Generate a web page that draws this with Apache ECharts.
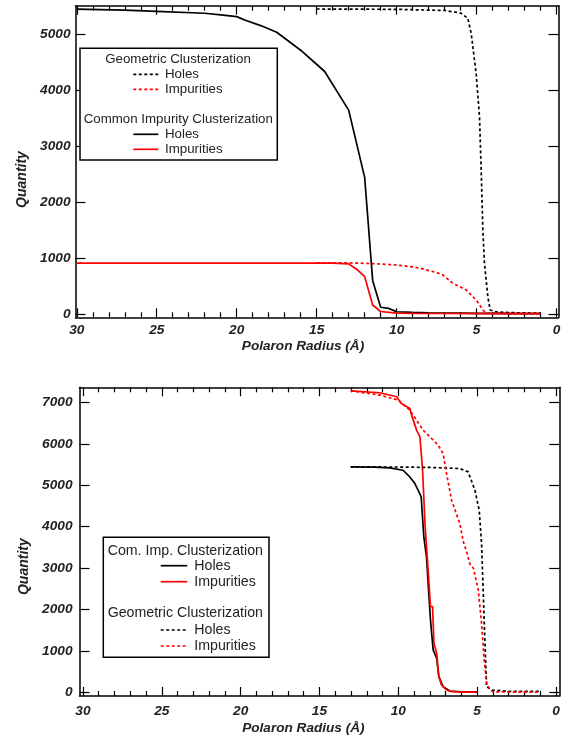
<!DOCTYPE html>
<html>
<head>
<meta charset="utf-8">
<script src="https://cdn.jsdelivr.net/npm/echarts@6/dist/echarts.min.js"></script>
<style>
  html, body { margin: 0; padding: 0; background: #fff; }
  #chart { width: 572px; height: 741px; }
</style>
</head>
<body>
<div id="chart"></div>
<script>
// top panel: radius (Å) and quantity for each curve
const topComHolesR = [30, 27, 25, 22, 21, 20, 19.5, 18.5, 17.5, 16, 14.5, 13, 12, 11.5, 11, 10.5, 10, 9, 8, 7, 6, 5, 4, 3, 2, 1];
const topComHolesQ = [5445, 5425, 5405, 5370, 5340, 5310, 5250, 5150, 5030, 4710, 4330, 3640, 2440, 600, 120, 100, 40, 30, 22, 18, 15, 12, 10, 8, 6, 5];
const topComImpR = [30, 15, 14, 13, 12.5, 12, 11.5, 11, 10, 9, 7, 5, 3, 1];
const topComImpQ = [910, 910, 908, 895, 800, 667, 161, 45, 15, 10, 9, 8, 8, 8];
const topGeoHolesR = [15, 10, 7, 6, 5.55, 5.34, 5.03, 4.82, 4.72, 4.61, 4.51, 4.3, 4.15, 3.8, 3, 2, 1];
const topGeoHolesQ = [5446, 5440, 5420, 5375, 5280, 5012, 4298, 3523, 2631, 1500, 905, 310, 71, 40, 25, 20, 15];
const topGeoImpR = [15, 13, 12, 11, 10, 9, 8.5, 7.5, 7.1, 6.5, 5.65, 5.03, 4.6, 4.4, 4, 3, 2, 1];
const topGeoImpQ = [912, 912, 905, 892, 875, 840, 815, 740, 696, 550, 430, 250, 71, 12, 10, 9, 8, 8];

// bottom panel
const botComHolesR = [13.02, 11.5, 10.54, 9.7, 9.27, 8.95, 8.74, 8.55, 8.38, 8.21, 8.11, 7.96, 7.79, 7.57, 7.43, 7.16, 6.73, 6, 5];
const botComHolesQ = [5442, 5438, 5418, 5362, 5201, 5041, 4879, 4718, 3751, 3268, 2640, 1754, 1029, 829, 385, 143, 39, 20, 20];
const botComImpR = [13.02, 11.17, 10.11, 9.8, 9.27, 9.16, 8.84, 8.63, 8.46, 8.3, 8.1, 7.96, 7.83, 7.74, 7.57, 7.43, 7.26, 6.94, 6.62, 6, 5];
const botComImpQ = [7278, 7230, 7133, 6973, 6852, 6691, 6329, 6167, 5362, 4000, 2900, 2075, 2075, 1190, 950, 385, 184, 63, 22, 12, 10];
const botGeoHolesR = [13.02, 10, 8, 6.1, 5.57, 5.14, 4.87, 4.72, 4.62, 4.51, 4.4, 4.08, 4, 3, 2, 1];
const botGeoHolesQ = [5442, 5440, 5430, 5403, 5322, 4879, 4396, 3600, 2478, 1270, 143, 63, 40, 30, 30, 30];
const botGeoImpR = [13.02, 11.17, 10.01, 9.27, 8.84, 8.43, 7.89, 7.47, 7.16, 6.94, 6.62, 6.1, 5.85, 5.67, 5.46, 5.24, 4.93, 4.72, 4.57, 4.4, 4.19, 4, 3, 2, 1];
const botGeoImpQ = [7278, 7174, 7053, 6812, 6570, 6329, 6128, 5966, 5765, 5282, 4638, 4074, 3600, 3400, 3100, 3000, 2478, 1674, 867, 225, 63, 20, 12, 10, 10];

// tick values
const xMajor = [0, 5, 10, 15, 20, 25, 30];
const xMinor = [1, 2, 3, 4, 6, 7, 8, 9, 11, 12, 13, 14, 16, 17, 18, 19, 21, 22, 23, 24, 26, 27, 28, 29];
const yTopTicks = [0, 1000, 2000, 3000, 4000, 5000];
const yBotTicks = [0, 1000, 2000, 3000, 4000, 5000, 6000, 7000];

const FONT = "'Liberation Sans', Arial, Helvetica, sans-serif";
const INK = '#222';
const RED = '#ff0000';
const DASH = [3, 2.5];

const zip = (r, q) => r.map((v, i) => [v, q[i]]);

const labelStyle = {
  fontFamily: FONT, fontWeight: 'bold', fontStyle: 'italic', fontSize: 13.7, color: INK
};
const plain = v => String(v);

function xAxes(grid, min, max, labelMargin, nameGap, namePad) {
  const base = {
    type: 'value', gridIndex: grid, min: min, max: max, inverse: true,
    splitLine: { show: false }
  };
  const line = { show: true, onZero: false, lineStyle: { color: '#000', width: 1.5 } };
  const noLine = { show: false, onZero: false };
  return [
    Object.assign({}, base, {
      position: 'bottom',
      name: 'Polaron Radius (Å)', nameLocation: 'middle', nameGap: nameGap,
      nameTextStyle: Object.assign({}, labelStyle, { fontSize: 13.6, padding: [0, namePad, 0, 0] }),
      axisLine: line,
      axisTick: { show: true, inside: true, length: 9, customValues: xMajor, lineStyle: { color: '#000', width: 1.2 } },
      axisLabel: Object.assign({}, labelStyle, { margin: labelMargin, customValues: xMajor, formatter: plain })
    }),
    Object.assign({}, base, {
      position: 'bottom',
      axisLine: noLine,
      axisTick: { show: true, inside: true, length: 5, customValues: xMinor, lineStyle: { color: '#000', width: 1.2 } },
      axisLabel: { show: false }
    }),
    Object.assign({}, base, {
      position: 'top',
      axisLine: line,
      axisTick: { show: true, inside: true, length: 9, customValues: xMajor, lineStyle: { color: '#000', width: 1.2 } },
      axisLabel: { show: false }
    }),
    Object.assign({}, base, {
      position: 'top',
      axisLine: noLine,
      axisTick: { show: true, inside: true, length: 5, customValues: xMinor, lineStyle: { color: '#000', width: 1.2 } },
      axisLabel: { show: false }
    })
  ];
}

function yAxes(grid, min, max, ticks, labelMargin, nameGap, namePad) {
  const base = {
    type: 'value', gridIndex: grid, min: min, max: max,
    splitLine: { show: false }
  };
  const line = { show: true, onZero: false, lineStyle: { color: '#000', width: 1.5 } };
  return [
    Object.assign({}, base, {
      position: 'left',
      name: 'Quantity', nameLocation: 'middle', nameGap: nameGap,
      nameTextStyle: Object.assign({}, labelStyle, { fontSize: 14, padding: [0, namePad, 0, 0] }),
      axisLine: line,
      axisTick: { show: true, inside: true, length: 10, customValues: ticks, lineStyle: { color: '#000', width: 1.2 } },
      axisLabel: Object.assign({}, labelStyle, { margin: labelMargin, customValues: ticks, formatter: plain })
    }),
    Object.assign({}, base, {
      position: 'right',
      axisLine: line,
      axisTick: { show: true, inside: true, length: 10, customValues: ticks, lineStyle: { color: '#000', width: 1.2 } },
      axisLabel: { show: false }
    })
  ];
}

function curve(data, color, dashed, xi, yi) {
  return {
    type: 'line', data: data, xAxisIndex: xi, yAxisIndex: yi,
    showSymbol: false, symbol: 'none', silent: true, animation: false,
    lineStyle: { color: color, width: 1.7, type: dashed ? DASH : 'solid' },
    z: 3
  };
}

// legend pieces drawn as graphics
function legendText(text, x, y, size, align) {
  return {
    type: 'text', silent: true, z: 20,
    style: {
      text: text, x: x, y: y, fill: INK,
      font: size + 'px ' + FONT,
      textAlign: align, textVerticalAlign: 'middle',
      align: align, verticalAlign: 'middle'
    }
  };
}
function legendLine(x1, x2, y, color, dashed) {
  return {
    type: 'line', silent: true, z: 20,
    shape: { x1: x1, y1: y, x2: x2, y2: y },
    style: { stroke: color, lineWidth: 1.7, lineDash: dashed ? DASH : null }
  };
}
function legendBox(x, y, w, h) {
  return {
    type: 'rect', silent: true, z: 19,
    shape: { x: x, y: y, width: w, height: h },
    style: { fill: '#fff', stroke: '#000', lineWidth: 1.5 }
  };
}

const graphics = [
  legendBox(80, 48.3, 197.3, 111.7),
  legendText('Geometric Clusterization', 178, 59.3, 13.3, 'center'),
  legendLine(133.3, 158.3, 74.3, '#000', true),
  legendText('Holes', 165, 74.3, 13.3, 'left'),
  legendLine(133.3, 158.3, 89.3, RED, true),
  legendText('Impurities', 165, 89.3, 13.3, 'left'),
  legendText('Common Impurity Clusterization', 178.3, 119.3, 13.3, 'center'),
  legendLine(133.3, 158.3, 134.3, '#000', false),
  legendText('Holes', 165, 134.3, 13.3, 'left'),
  legendLine(133.3, 158.3, 149.3, RED, false),
  legendText('Impurities', 165, 149.3, 13.3, 'left'),

  legendBox(103.3, 537.3, 165.7, 120),
  legendText('Com. Imp. Clusterization', 185.3, 550.7, 14.2, 'center'),
  legendLine(160.7, 187.3, 565.7, '#000', false),
  legendText('Holes', 194.3, 565.7, 14.2, 'left'),
  legendLine(160.7, 187.3, 581.7, RED, false),
  legendText('Impurities', 194.3, 581.7, 14.2, 'left'),
  legendText('Geometric Clusterization', 185.3, 613.3, 14.2, 'center'),
  legendLine(160.7, 187.3, 630, '#000', true),
  legendText('Holes', 194.3, 630, 14.2, 'left'),
  legendLine(160.7, 187.3, 646, RED, true),
  legendText('Impurities', 194.3, 646, 14.2, 'left')
];

const chart = echarts.init(document.getElementById('chart'), null, { renderer: 'canvas' });

const option = {
  backgroundColor: '#fff',
  animation: false,
  grid: [
    { left: 75.5, top: 5.7, width: 483, height: 311.6 },
    { left: 79.5, top: 387.3, width: 479.8, height: 308.7 }
  ],
  xAxis: [].concat(
    xAxes(0, -0.12, 30.08, 6, 22, 28),
    xAxes(1, -0.21, 30.22, 8, 25, 32)
  ),
  yAxis: [].concat(
    yAxes(0, -59, 5505, yTopTicks, 5, 41, 36),
    yAxes(1, -82, 7362, yBotTicks, 7, 48, 50)
  ),
  series: [
    curve(zip(topGeoHolesR, topGeoHolesQ), '#000', true, 0, 0),
    curve(zip(topGeoImpR, topGeoImpQ), RED, true, 0, 0),
    curve(zip(topComHolesR, topComHolesQ), '#000', false, 0, 0),
    curve(zip(topComImpR, topComImpQ), RED, false, 0, 0),

    curve(zip(botComHolesR, botComHolesQ), '#000', false, 4, 2),
    curve(zip(botComImpR, botComImpQ), RED, false, 4, 2),
    curve(zip(botGeoHolesR, botGeoHolesQ), '#000', true, 4, 2),
    curve(zip(botGeoImpR, botGeoImpQ), RED, true, 4, 2)
  ],
  graphic: graphics
};

chart.setOption(option);
</script>
</body>
</html>
